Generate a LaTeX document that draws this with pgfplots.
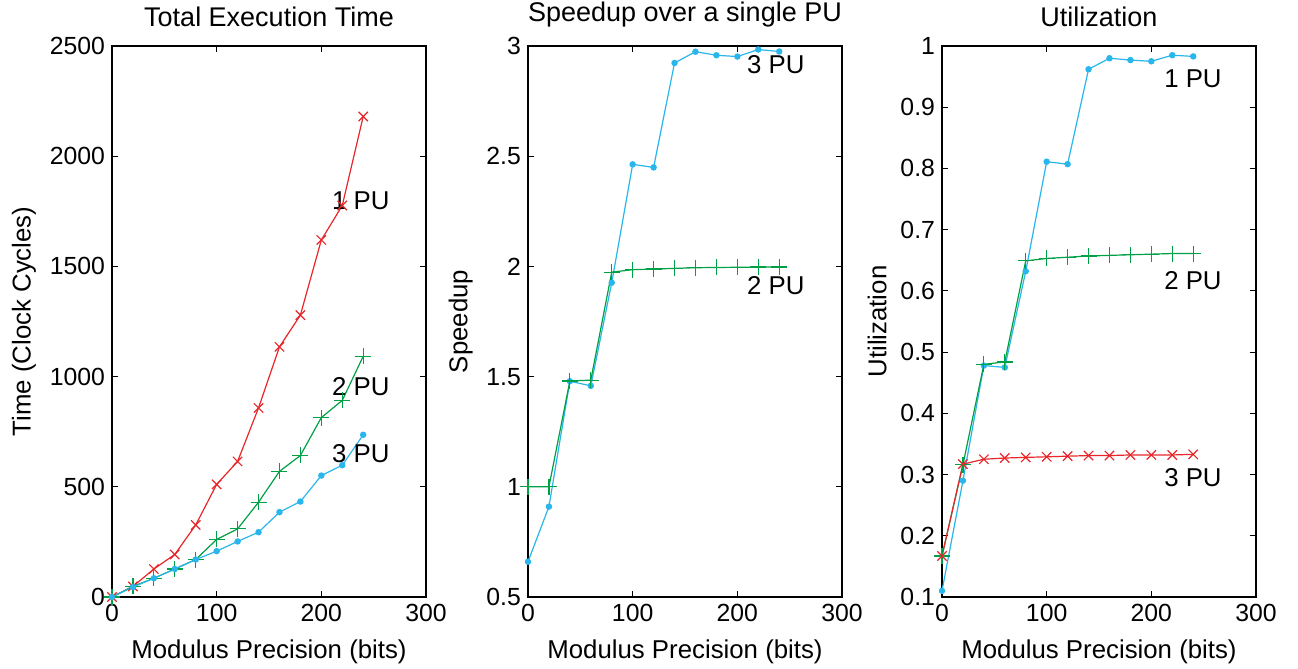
\documentclass[border=0pt]{standalone}
\usepackage{fontspec}
\setmainfont{Liberation Sans}
\usepackage{pgfplots}
\pgfplotsset{compat=1.18}
\definecolor{pured}{RGB}{232,38,42}
\definecolor{pugreen}{RGB}{0,160,70}
\definecolor{publue}{RGB}{40,182,236}
\newcommand{\fz}{\fontsize{12.4}{14}\selectfont}
\newcommand{\fl}{\fontsize{12.9}{15}\selectfont}
\newcommand{\ft}{\fontsize{13.5}{16}\selectfont}
\pgfplotsset{
  panel/.style={
    scale only axis, width=157pt, height=275.5pt, anchor=south west,
    xmin=0, xmax=300, xtick={0,100,200,300},
    tick align=inside, major tick length=3pt,
    tick style={black, line width=0.5pt},
    axis line style={line width=0.6pt},
    tick label style={font=\fz},
    label style={font=\fl},
    title style={font=\ft},
    xlabel style={yshift=-2pt},
    /pgf/number format/assume math mode=true,
    /pgf/number format/1000 sep={},
    scaled y ticks=false,
    xlabel={Modulus Precision (bits)},
  },
  rline/.style={pured, line width=0.6pt, mark=x, mark size=3.3pt, mark options={line width=0.6pt}},
  gline/.style={pugreen, line width=0.6pt, mark=+, mark size=4pt, mark options={line width=0.6pt}},
  bline/.style={publue, line width=0.6pt, mark=*, mark size=1.3pt},
}
\begin{document}
\begin{tikzpicture}
\useasboundingbox (0,0) rectangle (649pt,334.5pt);
% panel 1
\begin{axis}[panel, at={(56pt,36pt)},
  ymin=0, ymax=2500, ytick={0,500,1000,1500,2000,2500},
  title={Total Execution Time}, ylabel={Time (Clock Cycles)}]
\addplot[rline] coordinates {(0,0) (20,48) (40,127) (60,193) (80,327) (100,511) (120,615) (140,858) (160,1135) (180,1279) (200,1620) (220,1776) (240,2180)};
\addplot[gline] coordinates {(0,0) (20,48) (40,85) (60,127) (80,170) (100,261) (120,309) (140,430) (160,570) (180,642) (200,814) (220,892) (240,1092)};
\addplot[bline] coordinates {(0,0) (20,45) (40,85) (60,127) (80,170) (100,208) (120,252) (140,294) (160,385) (180,433) (200,551) (220,598) (240,736)};
\node[anchor=west, font=\fl, inner sep=0pt] at (axis cs:210,1800) {1 PU};
\node[anchor=west, font=\fl, inner sep=0pt] at (axis cs:210,955) {2 PU};
\node[anchor=west, font=\fl, inner sep=0pt] at (axis cs:210,650) {3 PU};
\end{axis}
% panel 2
\begin{axis}[panel, at={(264pt,36pt)},
  ymin=0.5, ymax=3, ytick={0.5,1,1.5,2,2.5,3},
  title={Speedup over a single PU}, ylabel={Speedup}]
\addplot[bline] coordinates {(0,0.66) (20,0.91) (40,1.479) (60,1.458) (80,1.926) (100,2.463) (120,2.449) (140,2.923) (160,2.974) (180,2.958) (200,2.952) (220,2.984) (240,2.975)};
\addplot[gline] coordinates {(0,1.0) (20,1.0) (40,1.48) (60,1.484) (80,1.974) (100,1.985) (120,1.988) (140,1.991) (160,1.994) (180,1.995) (200,1.996) (220,1.997) (240,1.997)};
\node[anchor=west, font=\fl, inner sep=0pt] at (axis cs:209,2.914) {3 PU};
\node[anchor=west, font=\fl, inner sep=0pt] at (axis cs:209,1.914) {2 PU};
\end{axis}
% panel 3
\begin{axis}[panel, at={(471pt,36pt)},
  ymin=0.1, ymax=1, ytick={0.1,0.2,0.3,0.4,0.5,0.6,0.7,0.8,0.9,1},
  title={Utilization}, ylabel={Utilization}]
\addplot[bline] coordinates {(0,0.11) (20,0.29) (40,0.478) (60,0.475) (80,0.632) (100,0.811) (120,0.807) (140,0.962) (160,0.980) (180,0.977) (200,0.975) (220,0.985) (240,0.983)};
\addplot[gline] coordinates {(0,0.167) (20,0.316) (40,0.480) (60,0.484) (80,0.649) (100,0.653) (120,0.655) (140,0.657) (160,0.658) (180,0.659) (200,0.660) (220,0.661) (240,0.661)};
\addplot[rline] coordinates {(0,0.167) (20,0.317) (40,0.325) (60,0.327) (80,0.328) (100,0.329) (120,0.330) (140,0.331) (160,0.331) (180,0.332) (200,0.332) (220,0.332) (240,0.333)};
\node[anchor=west, font=\fl, inner sep=0pt] at (axis cs:212,0.946) {1 PU};
\node[anchor=west, font=\fl, inner sep=0pt] at (axis cs:212,0.616) {2 PU};
\node[anchor=west, font=\fl, inner sep=0pt] at (axis cs:212,0.295) {3 PU};
\end{axis}
\end{tikzpicture}
\end{document}
